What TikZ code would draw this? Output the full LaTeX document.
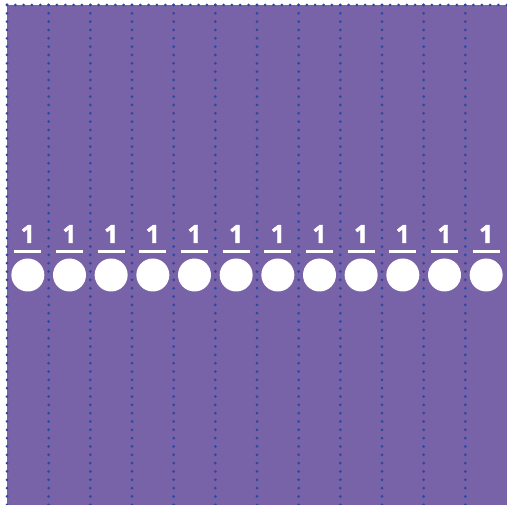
\documentclass[tikz,border=0pt]{standalone}
\usepackage{fontspec}
\newfontfamily\numfont{Open Sans}[FakeBold=1.5]
\definecolor{bgpurple}{HTML}{7862A8}
\definecolor{dotblue}{HTML}{2C48A0}
\begin{document}
\begin{tikzpicture}[x=1pt,y=-1pt,
  dotline/.style={dotblue,line width=3pt,line cap=round,dash pattern=on 0pt off 8.33pt},
  circ/.style={circle,fill=white,minimum size=33pt,inner sep=0pt},
  numtxt/.style={text=white,font=\numfont\bfseries\fontsize{25}{25}\selectfont,inner sep=0pt,anchor=base},
  bar/.style={white,line width=3pt}]
\useasboundingbox (0,0) rectangle (507,505);
\fill[bgpurple] (7,5) rectangle (507,505);
\draw[dotline] (7,5) -- (507,5);
\draw[dotline] (7,5) -- (7,505);
\foreach \k in {1,...,11} {
  \draw[dotline] ({7+41.667*\k},5) -- ({7+41.667*\k},505);
}
\foreach \k in {0,...,11} {
  \pgfmathsetmacro{\cx}{7+41.667*\k+20.83}
  \node[circ] (c\k) at (\cx,275) {};
  \coordinate (bl\k) at ({\cx-13.5},251.5);
  \coordinate (br\k) at ({\cx+13.5},251.5);
  \draw[bar] (bl\k) -- (br\k);
  \node[numtxt] (n\k) at (\cx,243) {1};
}
\end{tikzpicture}
\end{document}
